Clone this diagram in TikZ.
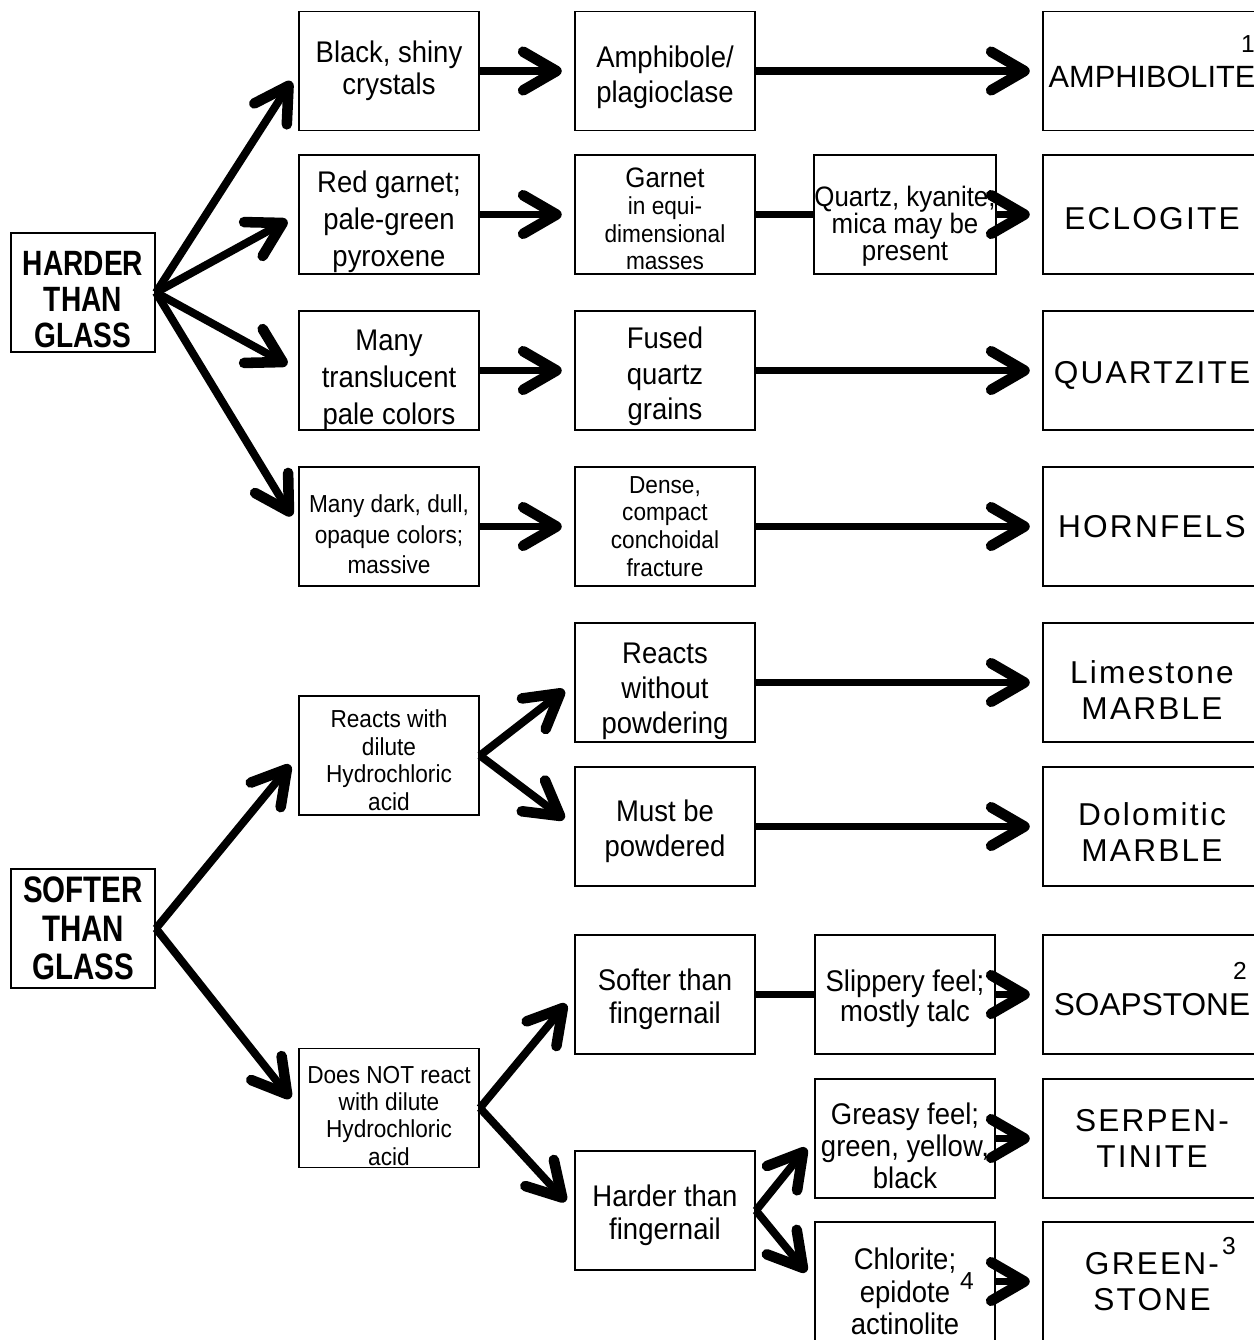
\documentclass[tikz,border=0pt]{standalone}
\usepackage{fontspec}
\setmainfont{Liberation Sans}[FakeStretch=0.92]
\newfontfamily\headfont{Liberation Sans}[FakeStretch=0.8]
\newfontfamily\rockfont{Liberation Sans}[LetterSpace=7]
\newfontfamily\rocktight{Liberation Sans}
\usetikzlibrary{arrows.meta}
\newcommand\sink[1]{\rule{0pt}{#1}}
\lineskiplimit=-30pt

\begin{document}
\begin{tikzpicture}[x=0.02cm, y=-0.02cm,
  box/.style={draw, line width=1.1pt, minimum width=3.6cm, minimum height=2.38cm, inner sep=0pt, align=center, font=\fontsize{17}{20}\selectfont},
  small/.style={font=\fontsize{14}{15.6}\selectfont},
  head/.style={box, minimum width=2.88cm, font=\headfont\bfseries\fontsize{20}{20.5}\selectfont},
  rock/.style={box, minimum width=4.36cm, font=\rockfont\fontsize{18}{20.4}\selectfont},
  note/.style={inner sep=0pt, font=\rocktight\fontsize{14}{14}\selectfont},
  arr/.style={line width=4.5pt, -{Straight Barb[length=19pt, width=22pt, line width=6pt, round]}, shorten >=7pt},
  link/.style={line width=4.5pt}]
\useasboundingbox (0,0) rectangle (1254,1340);
\clip (0,0) rectangle (1254,1340);

% left column
\node[head] (hard) at (83,292.5) {\sink{22.3pt}HARDER\\THAN\\GLASS};
\node[head, font=\headfont\bfseries\fontsize{21}{22}\selectfont] (soft) at (83,928.5) {SOFTER\\THAN\\GLASS};

% second column
\node[box, font=\fontsize{17}{18}\selectfont] (black) at (389,71) {Black, shiny\\crystals};
\node[box, font=\fontsize{17}{21}\selectfont] (redg) at (389,214.5) {\sink{21pt}Red garnet;\\pale-green\\pyroxene};
\node[box, font=\fontsize{17}{21}\selectfont] (transl) at (389,370.5) {\sink{22.5pt}Many\\translucent\\pale colors};
\node[box, font=\fontsize{14}{17.5}\selectfont] (dark) at (389,526.5) {\sink{19pt}Many dark, dull,\\opaque colors;\\massive};
\node[box, small] (hcl) at (389,755.5) {\sink{15.5pt}Reacts with\\dilute\\Hydrochloric\\acid};
\node[box, small] (nohcl) at (389,1108) {\sink{18.5pt}Does NOT react\\with dilute\\Hydrochloric\\acid};

% third column
\node[box] (amph) at (665,71) {\sink{19pt}Amphibole/\\plagioclase};
\node[box, small] (garn) at (665,214.5) {\sink{16pt}{\fontsize{16}{15.3}\selectfont Garnet}\\in equi-\\dimensional\\masses};
\node[box] (fused) at (665,370.5) {\sink{19pt}Fused\\quartz\\grains};
\node[box, font=\fontsize{14}{15.8}\selectfont] (dense) at (665,526.5) {Dense,\\compact\\conchoidal\\fracture};
\node[box] (nopow) at (665,682.5) {\sink{21.5pt}Reacts\\without\\powdering};
\node[box] (pow) at (665,826.5) {\sink{17.5pt}Must be\\powdered};
\node[box, font=\fontsize{17}{19}\selectfont] (softnail) at (665,994.5) {\sink{18pt}Softer than\\fingernail};
\node[box, font=\fontsize{17}{19}\selectfont] (hardnail) at (665,1210.5) {\sink{18pt}Harder than\\fingernail};

% fourth column
\node[box, font=\fontsize{16}{15.3}\selectfont] (kyan) at (905,214.5) {\sink{25pt}Quartz, kyanite,\\mica may be\\present};
\node[box, font=\fontsize{17}{17}\selectfont] (slip) at (905,994.5) {\sink{17.5pt}Slippery feel;\\mostly talc};
\node[box, font=\fontsize{17}{18}\selectfont] (greasy) at (905,1138.5) {\sink{20.5pt}Greasy feel;\\green, yellow,\\black};
\node[box, font=\fontsize{17}{18.5}\selectfont] (chlor) at (905,1281.5) {\sink{23.5pt}Chlorite;\\epidote\\actinolite};

% rock names
\node[rock, font=\rocktight\fontsize{17.5}{20}\selectfont] (amphib) at (1152,71) {\sink{19pt}AMPHIBOLITE};
\node[rock] (eclog) at (1152,214.5) {\sink{17.5pt}ECLOGITE};
\node[rock] (quartzite) at (1152,370.5) {\sink{18pt}QUARTZITE};
\node[rock] (hornfels) at (1152,526.5) {HORNFELS};
\node[rock] (lime) at (1152,682.5) {\sink{21.5pt}Limestone\\MARBLE};
\node[rock] (dolo) at (1152,826.5) {\sink{19pt}Dolomitic\\MARBLE};
\node[rock, font=\rocktight\fontsize{18}{20}\selectfont] (soap) at (1152,994.5) {\sink{23.5pt}SOAPSTONE};
\node[rock] (serp) at (1152,1138.5) {SERPEN-\\TINITE};
\node[rock] (green) at (1152,1281.5) {GREEN-\\STONE};

% footnote marks
\node[note] (n1) at (1248,44) {1};
\node[note] (n2) at (1240,971) {2};
\node[note] (n3) at (1229,1246) {3};
\node[note] (n4) at (967,1281) {4};

% hard branch
\path [arr] (hard.east) edge (black.west);
\path [arr] (hard.east) edge (redg.west);
\path [arr] (hard.east) edge (transl.west);
\path [arr] (hard.east) edge (dark.west);
\path [arr] (black.east) edge (amph.west);
\path [arr] (redg.east) edge (garn.west);
\path [arr] (transl.east) edge (fused.west);
\path [arr] (dark.east) edge (dense.west);
\path [arr] (amph.east) edge (amphib.west);
\path [link] (garn.east) edge (kyan.west);
\path [arr] (kyan.east) edge (eclog.west);
\path [arr] (fused.east) edge (quartzite.west);
\path [arr] (dense.east) edge (hornfels.west);

% soft branch
\path [arr] (soft.east) edge (hcl.west);
\path [arr] (soft.east) edge (nohcl.west);
\path [arr] (hcl.east) edge (nopow.west);
\path [arr] (hcl.east) edge (pow.west);
\path [arr] (nopow.east) edge (lime.west);
\path [arr] (pow.east) edge (dolo.west);
\path [arr] (nohcl.east) edge (softnail.west);
\path [arr] (nohcl.east) edge (hardnail.west);
\path [link] (softnail.east) edge (slip.west);
\path [arr] (slip.east) edge (soap.west);
\path [arr] (hardnail.east) edge (greasy.west);
\path [arr] (hardnail.east) edge (chlor.west);
\path [arr] (greasy.east) edge (serp.west);
\path [arr] (chlor.east) edge (green.west);
\end{tikzpicture}
\end{document}
